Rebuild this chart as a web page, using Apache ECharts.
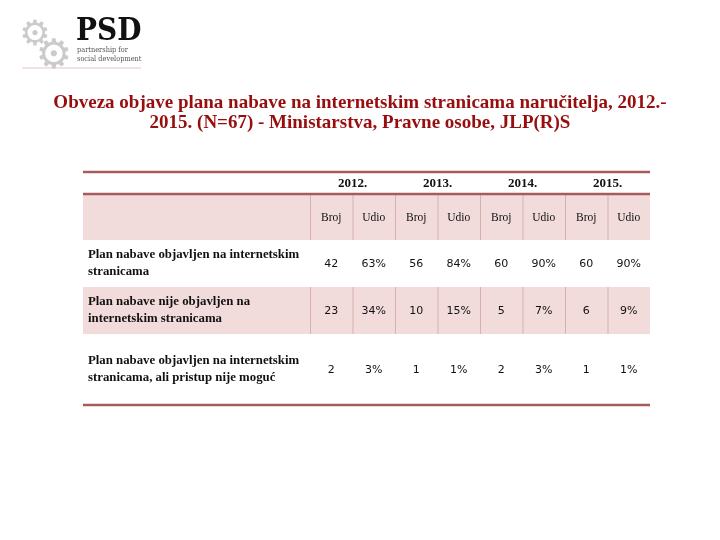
<!DOCTYPE html>
<html><head><meta charset="utf-8">
<script src="https://cdn.jsdelivr.net/npm/echarts@6/dist/echarts.min.js"></script>
<style>html,body{margin:0;padding:0;background:#fff}#c{width:720px;height:540px}</style>
</head><body><div id="c"></div>
<script>
// ---- data ----
const titleText = 'Obveza objave plana nabave na internetskim stranicama naručitelja, 2012.-\n2015. (N=67) - Ministarstva, Pravne osobe, JLP(R)S';
const years = ['2012.', '2013.', '2014.', '2015.'];
const subHeaders = ['Broj', 'Udio'];
const rowLabels = [
  'Plan nabave objavljen na internetskim\nstranicama',
  'Plan nabave nije objavljen na\ninternetskim stranicama',
  'Plan nabave objavljen na internetskim\nstranicama, ali pristup nije moguć'
];
const broj2012 = [42, 23, 2];
const udio2012 = [63, 34, 3];
const broj2013 = [56, 10, 1];
const udio2013 = [84, 15, 1];
const broj2014 = [60, 5, 2];
const udio2014 = [90, 7, 3];
const broj2015 = [60, 6, 1];
const udio2015 = [90, 9, 1];

// ---- layout (table units, px relative to table origin) ----
const COL_EDGES = [0, 227, 269.5, 312, 354.5, 397, 439.5, 482, 524.5, 567];
const ROW_EDGES = [0, 22, 68, 115, 162, 233];
const PINK_ROWS = [1, 3];

const brojs = [broj2012, broj2013, broj2014, broj2015];
const udios = [udio2012, udio2013, udio2014, udio2015];

// cells: [c0, c1, r0, r1], text, kind
const cells = [];
years.forEach((y, k) => cells.push({ v: [1 + 2 * k, 3 + 2 * k, 0, 1], t: y, k: 'year' }));
years.forEach((y, k) => subHeaders.forEach((s, j) => cells.push({ v: [1 + 2 * k + j, 2 + 2 * k + j, 1, 2], t: s, k: 'sub' })));
rowLabels.forEach((l, i) => {
  cells.push({ v: [0, 1, 2 + i, 3 + i], t: l, k: 'label' });
  years.forEach((y, k) => {
    cells.push({ v: [1 + 2 * k, 2 + 2 * k, 2 + i, 3 + i], t: String(brojs[k][i]), k: 'num' });
    cells.push({ v: [2 + 2 * k, 3 + 2 * k, 2 + i, 3 + i], t: udios[k][i] + '%', k: 'num' });
  });
});

// structural items: backgrounds, rules, vertical lines
const structs = [];
PINK_ROWS.forEach(r => structs.push({ v: [0, 9, r, r + 1], k: 'bg' }));
PINK_ROWS.forEach(r => { for (let c = 1; c < 9; c++) structs.push({ v: [c, c, r, r + 1], k: 'vline' }); });
[0, 1, 5].forEach(r => structs.push({ v: [0, 9, r, r], k: 'rule' }));

function rectOf(api, v) {
  const p0 = api.coord([COL_EDGES[v[0]], ROW_EDGES[v[2]]]);
  const p1 = api.coord([COL_EDGES[v[1]], ROW_EDGES[v[3]]]);
  return { x: p0[0], y: p0[1], w: p1[0] - p0[0], h: p1[1] - p0[1] };
}

const chart = echarts.init(document.getElementById('c'), null, { renderer: 'canvas' });
chart.setOption({
  backgroundColor: '#fff',
  animation: false,
  title: {
    text: titleText, left: 'center', top: 88,
    textStyle: { fontFamily: 'Liberation Serif', fontWeight: 'bold', fontSize: 19, color: '#980E0E', lineHeight: 20 }
  },
  grid: { left: 83, top: 172, width: 567, height: 233 },
  xAxis: { type: 'value', min: 0, max: 567, show: false },
  yAxis: { type: 'value', min: 0, max: 233, inverse: true, show: false },
  graphic: [
    { type: 'line', shape: { x1: 22, y1: 68, x2: 141, y2: 68 }, style: { stroke: '#e6c3c3', lineWidth: 1 } },
    { type: 'text', x: 35, y: 36, style: { text: '⚙', textAlign: 'center', textVerticalAlign: 'middle', fontFamily: 'DejaVu Sans', fontSize: 35, fill: '#cbcbcb' } },
    { type: 'text', x: 54, y: 57, style: { text: '⚙', textAlign: 'center', textVerticalAlign: 'middle', fontFamily: 'DejaVu Sans', fontSize: 41, fill: '#cbcbcb' } },
    { type: 'text', x: 76, y: 16, scaleX: 0.9, style: { text: 'PSD', fontFamily: 'DejaVu Serif', fontWeight: 'bold', fontSize: 31, fill: '#111' } },
    { type: 'text', x: 77, y: 46, scaleX: 0.88, style: { text: 'partnership for', fontFamily: 'DejaVu Serif', fontSize: 7.5, fill: '#555' } },
    { type: 'text', x: 77, y: 55, scaleX: 0.88, style: { text: 'social development', fontFamily: 'DejaVu Serif', fontSize: 7.5, fill: '#555' } }
  ],
  series: [
    {
      type: 'custom', coordinateSystem: 'cartesian2d', silent: true, z: 1,
      data: structs.map(s => s.v),
      encode: { x: [0, 1], y: [2, 3] },
      renderItem: (params, api) => {
        const s = structs[params.dataIndex];
        const r = rectOf(api, s.v);
        if (s.k === 'bg') return { type: 'rect', shape: { x: r.x, y: r.y, width: r.w, height: r.h }, style: { fill: '#F2DCDB' } };
        if (s.k === 'vline') return { type: 'line', z2: 2, shape: { x1: r.x + 0.5, y1: r.y, x2: r.x + 0.5, y2: r.y + r.h }, style: { stroke: '#D9B0B0', lineWidth: 1 } };
        return { type: 'line', z2: 3, shape: { x1: r.x, y1: r.y, x2: r.x + r.w, y2: r.y }, style: { stroke: '#A65C5C', lineWidth: 2.5 } };
      }
    },
    {
      type: 'custom', coordinateSystem: 'cartesian2d', silent: true, z: 5,
      data: cells.map(c => c.v),
      encode: { x: [0, 1], y: [2, 3] },
      renderItem: (params, api) => {
        const c = cells[params.dataIndex];
        const r = rectOf(api, c.v);
        const cy = r.y + r.h / 2;
        if (c.k === 'label') {
          return { type: 'text', style: { x: r.x + 5, y: cy, text: c.t, textAlign: 'left', textVerticalAlign: 'middle', fontFamily: 'Liberation Serif', fontWeight: 'bold', fontSize: 12.8, lineHeight: 17, fill: '#111' } };
        }
        const st = { x: r.x + r.w / 2, y: cy + 1, text: c.t, textAlign: 'center', textVerticalAlign: 'middle', fill: '#111' };
        if (c.k === 'year') Object.assign(st, { fontFamily: 'Liberation Serif', fontWeight: 'bold', fontSize: 13 });
        else if (c.k === 'sub') Object.assign(st, { fontFamily: 'Liberation Serif', fontSize: 11.5 });
        else Object.assign(st, { fontFamily: 'DejaVu Sans', fontSize: 11 });
        return { type: 'text', style: st };
      }
    }
  ]
});
</script></body></html>
